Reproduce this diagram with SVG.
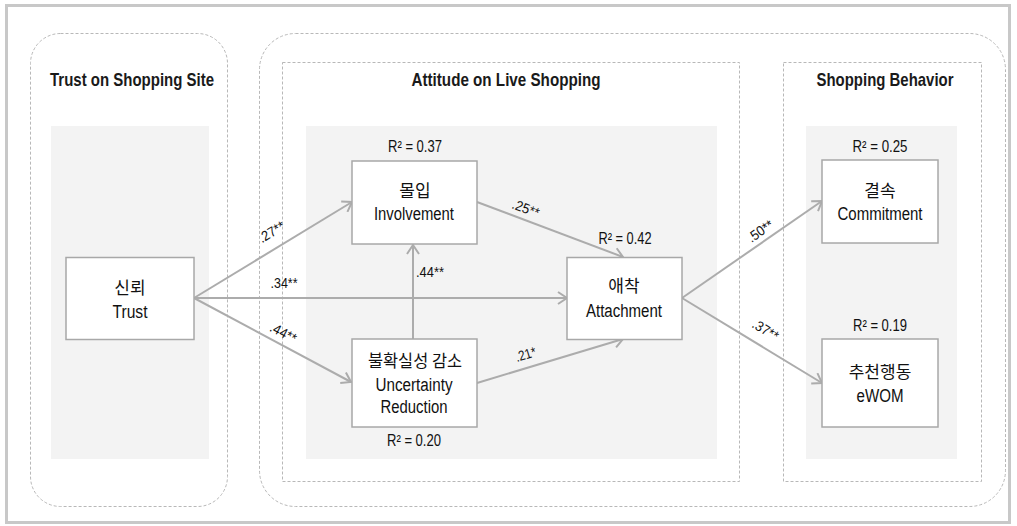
<svg xmlns="http://www.w3.org/2000/svg" width="1017" height="526" viewBox="0 0 1017 526">
<style>
.frame{fill:#fff;stroke:#c8c8c8;stroke-width:3}
.dash{fill:none;stroke:#b8b8b8;stroke-width:1;stroke-dasharray:3,2}
.panel{fill:#f3f3f3}
.box{fill:#fff;stroke:#a8a8a8;stroke-width:1.5}
.title{font-family:"Liberation Sans Narrow","Liberation Sans",Arial,sans-serif;font-weight:bold;font-size:19px;fill:#1a1a1a;text-anchor:middle}
.ko{font-family:"Noto Sans CJK KR",sans-serif;font-size:17px;fill:#111;text-anchor:middle}
.en{font-family:"Liberation Sans Narrow","Liberation Sans",Arial,sans-serif;font-size:18px;fill:#111;text-anchor:middle}
.r2{font-family:"Liberation Sans Narrow","Liberation Sans",Arial,sans-serif;font-size:16px;fill:#111;text-anchor:middle}
.lab{font-family:"Liberation Sans Narrow","Liberation Sans",Arial,sans-serif;font-size:14px;fill:#111;text-anchor:middle}
.arrow{fill:none;stroke:#acacac;stroke-width:2;marker-end:url(#ah)}
</style>
<defs>
<marker id="ah" markerWidth="12" markerHeight="14" refX="10" refY="7" orient="auto" markerUnits="userSpaceOnUse">
<path d="M1,1 L10,7 L1,13" fill="none" stroke="#acacac" stroke-width="2"/>
</marker>
</defs>
<rect class="frame" x="6.5" y="5.5" width="1003" height="517"/>
<g id="group-trust">
<rect class="dash" x="30.5" y="33.5" width="197" height="473" rx="30"/>
<rect class="panel" x="51" y="126" width="158" height="333"/>
<text class="title" x="132" y="86" textLength="164" lengthAdjust="spacingAndGlyphs">Trust on Shopping Site</text>
</g>
<g id="group-outer">
<rect class="dash" x="259.5" y="33.5" width="746" height="473" rx="36"/>
</g>
<g id="group-attitude">
<rect class="dash" x="282.5" y="62.5" width="457" height="419"/>
<rect class="panel" x="306" y="126" width="411" height="333"/>
<text class="title" x="506" y="86" textLength="189" lengthAdjust="spacingAndGlyphs">Attitude on Live Shopping</text>
</g>
<g id="group-behavior">
<rect class="dash" x="783.5" y="62.5" width="198" height="419"/>
<rect class="panel" x="806" y="126" width="151" height="333"/>
<text class="title" x="885" y="86" textLength="137" lengthAdjust="spacingAndGlyphs">Shopping Behavior</text>
</g>
<g id="connectors">
<line class="arrow" x1="194" y1="298" x2="352" y2="202"/>
<line class="arrow" x1="194" y1="298" x2="567" y2="298"/>
<line class="arrow" x1="194" y1="298" x2="351" y2="382"/>
<line class="arrow" x1="413" y1="339" x2="413" y2="245"/>
<line class="arrow" x1="477" y1="202" x2="623" y2="257"/>
<line class="arrow" x1="477" y1="383" x2="623" y2="339"/>
<line class="arrow" x1="682" y1="298" x2="822" y2="201"/>
<line class="arrow" x1="682" y1="298" x2="822" y2="383"/>
<text class="lab" transform="translate(274,236) rotate(-31.3)" textLength="28" lengthAdjust="spacingAndGlyphs">.27**</text>
<text class="lab" x="284" y="288" textLength="27" lengthAdjust="spacingAndGlyphs">.34**</text>
<text class="lab" transform="translate(281,337) rotate(28)" textLength="28" lengthAdjust="spacingAndGlyphs">.44**</text>
<text class="lab" x="430" y="277" textLength="28" lengthAdjust="spacingAndGlyphs">.44**</text>
<text class="lab" transform="translate(524,213) rotate(20.6)" textLength="28" lengthAdjust="spacingAndGlyphs">.25**</text>
<text class="lab" transform="translate(527,359) rotate(-16.8)" textLength="21" lengthAdjust="spacingAndGlyphs">.21*</text>
<text class="lab" transform="translate(763,235) rotate(-34.4)" textLength="28" lengthAdjust="spacingAndGlyphs">.50**</text>
<text class="lab" transform="translate(763,334) rotate(31.3)" textLength="28" lengthAdjust="spacingAndGlyphs">.37**</text>
</g>
<g id="node-trust">
<rect class="box" x="66" y="257.5" width="128" height="82"/>
<text class="ko" x="130" y="294">신뢰</text>
<text class="en" x="130" y="318" textLength="35" lengthAdjust="spacingAndGlyphs">Trust</text>
</g>
<g id="node-involvement">
<rect class="box" x="352" y="161" width="125" height="83"/>
<text class="r2" x="415" y="152" textLength="54" lengthAdjust="spacingAndGlyphs">R² = 0.37</text>
<text class="ko" x="415" y="197">몰입</text>
<text class="en" x="414" y="220" textLength="80" lengthAdjust="spacingAndGlyphs">Involvement</text>
</g>
<g id="node-uncertainty">
<rect class="box" x="352" y="339" width="125" height="88"/>
<text class="ko" x="415" y="367" textLength="94" lengthAdjust="spacingAndGlyphs">불확실성 감소</text>
<text class="en" x="414" y="391" textLength="77" lengthAdjust="spacingAndGlyphs">Uncertainty</text>
<text class="en" x="414" y="413" textLength="67" lengthAdjust="spacingAndGlyphs">Reduction</text>
<text class="r2" x="414" y="446" textLength="54" lengthAdjust="spacingAndGlyphs">R² = 0.20</text>
</g>
<g id="node-attachment">
<rect class="box" x="567" y="257.5" width="115" height="82"/>
<text class="r2" x="625" y="244" textLength="53" lengthAdjust="spacingAndGlyphs">R² = 0.42</text>
<text class="ko" x="624" y="292">애착</text>
<text class="en" x="624" y="317" textLength="76" lengthAdjust="spacingAndGlyphs">Attachment</text>
</g>
<g id="node-commitment">
<rect class="box" x="822" y="160" width="116" height="83"/>
<text class="r2" x="880" y="152" textLength="55" lengthAdjust="spacingAndGlyphs">R² = 0.25</text>
<text class="ko" x="880" y="197">결속</text>
<text class="en" x="880" y="220" textLength="85" lengthAdjust="spacingAndGlyphs">Commitment</text>
</g>
<g id="node-ewom">
<rect class="box" x="822" y="339" width="116" height="88"/>
<text class="r2" x="880" y="331" textLength="54" lengthAdjust="spacingAndGlyphs">R² = 0.19</text>
<text class="ko" x="880" y="378">추천행동</text>
<text class="en" x="880" y="402" textLength="47" lengthAdjust="spacingAndGlyphs">eWOM</text>
</g>
</svg>
